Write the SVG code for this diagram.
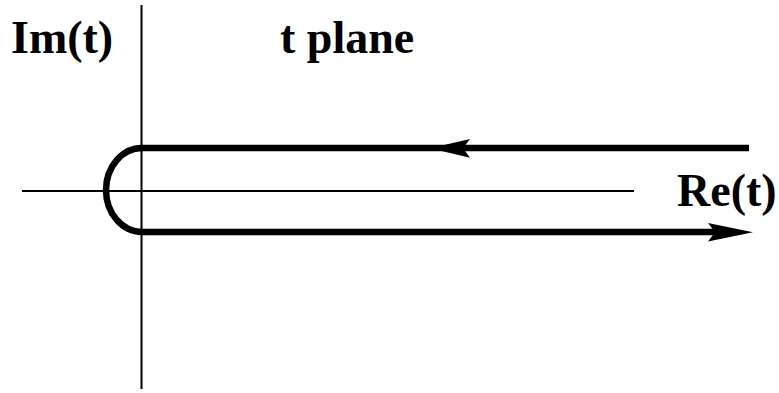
<svg xmlns="http://www.w3.org/2000/svg" width="779" height="393" viewBox="0 0 779 393">
  <style>
    .axis { stroke: #000; stroke-width: 2; fill: none; }
    .path { stroke: #000; stroke-width: 6.5; fill: none; }
    .head { fill: #000; stroke: none; }
    .lbl { font-weight: bold; font-size: 46px; fill: #000; }
  </style>
  <rect width="779" height="393" fill="#fff"/>
  <g id="axes">
    <line class="axis" x1="141.5" y1="5" x2="141.5" y2="389"/>
    <line class="axis" x1="22" y1="191" x2="634" y2="191"/>
  </g>
  <g id="contour">
    <path class="path" d="M749,148 L142,148 A36,42 0 0 0 142,232 L716,232"/>
    <!-- incoming arrow on the upper branch -->
    <path class="head" d="M430,148.3 L470,139 L463,148.3 L470,157.7 Z"/>
    <!-- outgoing arrow on the lower branch -->
    <path class="head" d="M753,232.3 L708,223 L715,232.3 L708,241.5 Z"/>
  </g>
  <g id="labels" font-family="Liberation Serif, Times New Roman, DejaVu Serif, serif">
    <text class="lbl" x="11" y="53">Im(t)</text>
    <text class="lbl" x="280" y="53">t plane</text>
    <text class="lbl" x="677" y="206">Re(t)</text>
  </g>
</svg>
